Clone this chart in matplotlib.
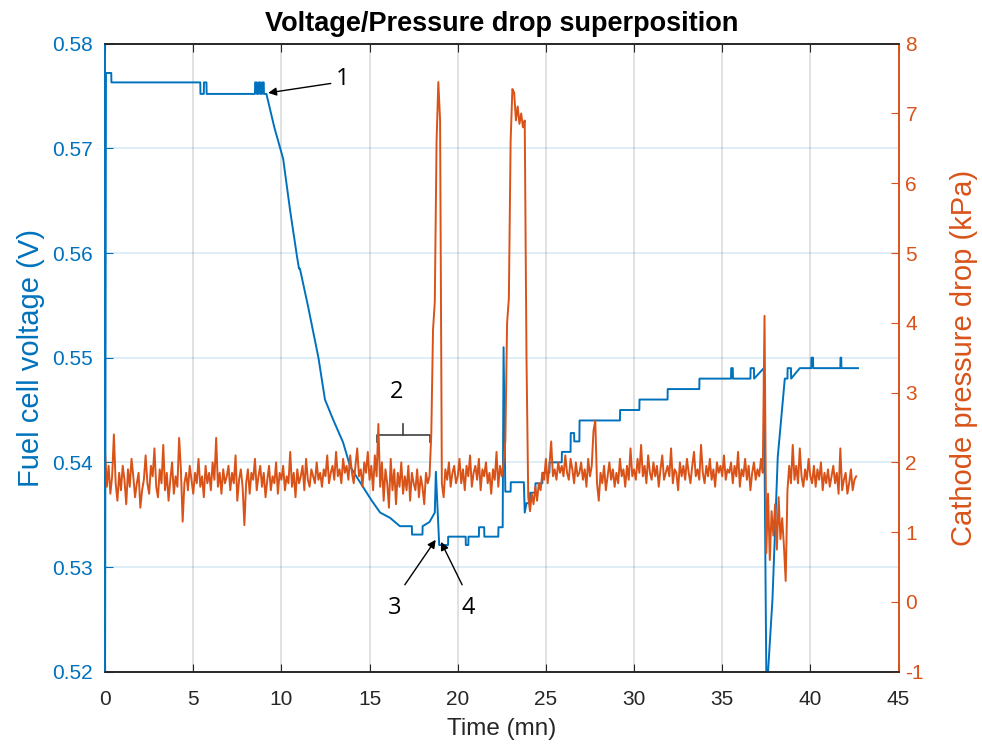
import numpy as np
import matplotlib
matplotlib.use('Agg')
from matplotlib import pyplot as plt

plt.rcParams['font.family'] = ['Liberation Sans', 'DejaVu Sans']
plt.rcParams['axes.unicode_minus'] = False

v_time = [0.0, 0.05, 0.35, 0.36, 5.4, 5.41, 5.6, 5.61, 5.75, 5.76, 6.0, 6.01,
          8.5, 8.51, 8.6, 8.61, 8.7, 8.71, 8.8, 8.81, 8.9, 8.91, 9.0, 9.01, 9.15,
          9.6, 10.1, 10.5, 10.9, 11.0, 11.05, 11.5, 12.1, 12.47, 12.93, 13.5, 13.9,
          14.46, 15.1, 15.6, 16.16, 16.72, 17.4, 17.41, 18.0, 18.01, 18.4, 18.7,
          18.76, 18.95, 19.45, 19.46, 20.45, 20.46, 20.6, 20.61, 21.2, 21.21, 21.5,
          21.51, 22.3, 22.31, 22.55, 22.6, 22.7, 22.75, 23.0, 23.01, 23.75, 23.8,
          23.9, 24.1, 24.11, 24.4, 24.41, 24.8, 24.81, 25.2, 25.21, 25.9, 25.91,
          26.4, 26.41, 26.6, 26.61, 26.9, 26.91, 27.6, 27.61, 29.2, 29.21, 30.3,
          30.31, 31.9, 31.91, 33.7, 33.71, 35.5, 35.51, 35.6, 35.61, 36.6, 36.61,
          36.8, 36.81, 37.36, 37.5, 37.6, 37.85, 38.15, 38.55, 38.7, 38.71, 38.9,
          38.91, 39.4, 40.05, 40.06, 40.15, 40.16, 41.7, 41.71, 41.75, 41.76, 42.7]
voltage = [0.520, 0.5772, 0.5772, 0.5763, 0.5763, 0.5752, 0.5752, 0.5763, 0.5763,
           0.5752, 0.5752, 0.5752, 0.5752, 0.5763, 0.5763, 0.5752, 0.5752, 0.5763,
           0.5763, 0.5752, 0.5752, 0.5763, 0.5763, 0.5752, 0.5752,
           0.5720, 0.5690, 0.5640, 0.5595, 0.5585, 0.5585, 0.5550, 0.5500, 0.5460,
           0.5441, 0.5419, 0.5396, 0.5381, 0.5364, 0.5352, 0.5347, 0.5339, 0.5339,
           0.5331, 0.5331, 0.5339, 0.5343, 0.5352, 0.5391, 0.5321, 0.5321, 0.5329,
           0.5329, 0.5321, 0.5321, 0.5329, 0.5329, 0.5338, 0.5338, 0.5329, 0.5329,
           0.5338, 0.5338, 0.5510, 0.5372, 0.5372, 0.5372, 0.5381, 0.5381, 0.5352,
           0.5361, 0.5361, 0.5371, 0.5371, 0.5380, 0.5380, 0.5390, 0.5390, 0.5400,
           0.5400, 0.5410, 0.5410, 0.5428, 0.5428, 0.5420, 0.5420, 0.5440, 0.5440,
           0.5440, 0.5440, 0.5450, 0.5450, 0.5460, 0.5460, 0.5470, 0.5470, 0.5480,
           0.5480, 0.5490, 0.5490, 0.5480, 0.5480, 0.5490, 0.5490, 0.5480, 0.5490,
           0.5200, 0.5200, 0.5269, 0.5405, 0.5480, 0.5480, 0.5490, 0.5490, 0.5480,
           0.5490, 0.5490, 0.5500, 0.5500, 0.5490, 0.5490, 0.5500, 0.5500, 0.5490,
           0.5490]

# cathode pressure drop (kPa), one reading every 0.1 mn, one row per minute
pressure = [
    2.15, 1.65, 1.95, 1.55, 1.80, 2.40, 1.70, 1.45, 1.85, 1.60,
    1.95, 1.75, 1.40, 1.90, 1.65, 2.05, 1.80, 1.50, 1.70, 1.85,
    1.35, 1.60, 1.75, 2.10, 1.70, 1.55, 1.95, 1.80, 2.20, 1.65,
    1.50, 1.90, 1.70, 2.25, 1.60, 1.85, 1.45, 1.75, 2.00, 1.55,
    1.80, 1.65, 2.35, 1.90, 1.15, 1.70, 1.85, 1.60, 1.95, 1.75,
    1.55, 1.85, 1.70, 2.05, 1.65, 1.80, 1.50, 1.95, 1.70, 1.85,
    1.60, 2.00, 1.75, 2.35, 1.65, 1.85, 1.55, 1.90, 1.70, 1.80,
    1.95, 1.60, 1.85, 1.70, 2.10, 1.45, 1.75, 1.90, 1.65, 1.10,
    1.70, 1.90, 1.55, 1.85, 1.75, 2.05, 1.60, 1.80, 1.95, 1.65,
    1.85, 1.50, 1.75, 1.95, 1.60, 1.80, 1.70, 2.00, 1.55, 1.85,
    1.75, 1.95, 1.60, 1.80, 1.70, 2.15, 1.65, 1.85, 1.50, 1.90,
    1.70, 1.80, 1.95, 1.60, 2.05, 1.75, 1.65, 1.90, 1.80, 1.70,
    2.00, 1.75, 1.85, 1.65, 1.90, 1.80, 2.10, 1.70, 1.85, 1.95,
    1.75, 2.15, 1.80, 1.90, 1.70, 2.05, 1.85, 1.95, 1.75, 2.10,
    1.85, 1.70, 1.95, 2.20, 1.80, 1.90, 1.65, 2.00, 1.85, 2.15,
    1.75, 1.95, 1.60, 2.10, 1.80, 2.55, 1.65, 2.00, 1.45, 1.90,
    1.70, 1.35, 2.05, 1.60, 1.90, 1.40, 1.85, 1.65, 2.00, 1.55,
    1.80, 1.60, 1.95, 1.45, 1.85, 1.70, 1.60, 1.90, 1.50, 1.80,
    1.65, 1.40, 1.85, 1.70, 1.80, 2.40, 3.90, 4.30, 6.60, 7.45,
    6.90, 1.70, 1.50, 1.90, 1.75, 2.00, 1.65, 1.85, 1.95, 1.70,
    1.80, 2.05, 1.70, 1.90, 1.60, 1.95, 1.80, 2.10, 1.65, 1.85,
    1.95, 1.75, 2.05, 1.60, 1.90, 1.80, 2.00, 1.70, 1.85, 1.55,
    1.90, 1.75, 2.15, 1.65, 1.95, 1.80, 2.00, 2.30, 4.00, 4.35,
    6.60, 7.35, 7.30, 6.90, 7.10, 6.85, 7.00, 6.80, 6.90, 3.50,
    1.50, 1.30, 1.55, 1.40, 1.65, 1.45, 1.70, 1.60, 1.85, 1.75,
    2.05, 1.70, 1.95, 2.30, 1.80, 1.90, 1.75, 2.00, 1.85, 1.95,
    1.80, 2.10, 1.85, 1.75, 2.05, 1.90, 1.70, 2.00, 1.80, 1.85,
    2.00, 1.75, 1.90, 1.65, 2.05, 1.80, 1.95, 2.45, 2.60, 1.70,
    1.45, 1.85, 1.70, 1.95, 1.60, 1.80, 2.00, 1.75, 1.90, 1.65,
    1.85, 1.70, 2.05, 1.80, 1.90, 1.65, 1.95, 1.75, 2.20, 1.80,
    1.90, 1.75, 2.05, 1.85, 2.25, 1.80, 1.95, 1.70, 2.10, 1.85,
    1.75, 2.00, 1.80, 1.95, 1.65, 1.90, 2.10, 1.75, 1.85, 1.95,
    1.80, 2.20, 1.70, 1.90, 1.85, 1.60, 2.00, 1.80, 1.95, 1.75,
    2.05, 1.85, 1.70, 1.95, 2.15, 1.80, 1.90, 1.75, 2.25, 1.85,
    1.70, 1.95, 1.80, 2.05, 1.75, 1.90, 1.65, 2.00, 1.85, 1.95,
    1.80, 2.10, 1.75, 1.90, 1.85, 2.00, 1.70, 1.95, 1.80, 2.15,
    1.65, 1.90, 1.80, 2.05, 1.75, 1.95, 1.60, 1.85, 2.00, 1.75,
    1.90, 1.80, 2.05, 1.85, 4.10, 0.70, 1.55, 0.60, 1.30, 0.95,
    1.40, 0.75, 1.50, 0.90, 1.20, 0.80, 0.30, 1.60, 1.95, 1.70,
    2.25, 1.75, 1.95, 1.70, 2.20, 1.80, 1.65, 1.90, 1.75, 2.05,
    1.80, 1.70, 1.95, 1.65, 1.90, 1.75, 2.00, 1.60, 1.85, 1.70,
    1.90, 1.65, 1.80, 1.95, 1.70, 1.85, 1.55, 2.20, 1.60, 1.75,
    1.85, 1.55, 1.70, 1.90, 1.60, 1.75, 1.80]
p_time = np.arange(len(pressure)) * 0.1

x_ticks = [0, 5, 10, 15, 20, 25, 30, 35, 40, 45]
v_ticks = [0.52, 0.53, 0.54, 0.55, 0.56, 0.57, 0.58]
p_ticks = [-1, 0, 1, 2, 3, 4, 5, 6, 7, 8]

blue = '#0072BD'
orange = '#D95319'
dark = '#262626'

fig = plt.figure(figsize=(9.82, 7.53), dpi=100)
ax = fig.add_axes([0.107, 0.108, 0.808, 0.834])
ax2 = ax.twinx()

ax.plot(v_time, voltage, color=blue, lw=1.4)
ax2.plot(p_time, pressure, color=orange, lw=1.4)

ax.set_xlim(0, 45)
ax.set_ylim(0.52, 0.58)
ax2.set_ylim(-1, 8)
ax.set_xticks(x_ticks)
ax.set_yticks(v_ticks)
ax.set_yticklabels(['%.2f' % v for v in v_ticks])
ax2.set_yticks(p_ticks)

# matlab style grid: grey verticals, bluish horizontals
for t in x_ticks[1:-1]:
    ax.axvline(t, color='#dcdcdc', lw=1.2, zorder=0)
for v in v_ticks[1:-1]:
    ax.axhline(v, color=blue, alpha=0.15, lw=1.2, zorder=0)

ax.tick_params(axis='x', direction='in', top=True, length=6, colors=dark, labelsize=15, pad=13)
ax.tick_params(axis='y', direction='in', length=6, colors=blue, labelsize=15, pad=9)
ax2.tick_params(axis='y', direction='in', length=6, colors=orange, labelsize=15, pad=5)
for a in (ax, ax2):
    a.spines['top'].set_color(dark)
    a.spines['bottom'].set_color(dark)
    a.spines['left'].set_color(blue)
    a.spines['right'].set_color(orange)
    for s in a.spines.values():
        s.set_linewidth(1.2)

ax.set_xlabel('Time (mn)', fontsize=17.5, color=dark, labelpad=7)
ax.set_ylabel('Fuel cell voltage (V)', fontsize=21, color=blue, labelpad=5)
ax2.set_ylabel('Cathode pressure drop (kPa)', fontsize=21, color=orange, labelpad=19)
ax.set_title('Voltage/Pressure drop superposition', fontsize=19.5, fontweight='bold',
             color='black', pad=9)

# annotations
arr = dict(arrowstyle='-|>', color='black', lw=1.0, mutation_scale=12, shrinkA=0, shrinkB=0)
ann_font = dict(fontsize=17, family=['Open Sans', 'DejaVu Sans'], color='black')
ax.annotate('', xy=(9.25, 0.5753), xytext=(12.8, 0.5762), arrowprops=arr)
ax.text(13.5, 0.5766, '1', ha='center', va='center', **ann_font)
ax.plot([15.42, 15.42, 18.42, 18.42], [0.5419, 0.54265, 0.54265, 0.5419], color='#404040', lw=1.2)
ax.plot([16.9, 16.9], [0.54265, 0.5437], color='#404040', lw=1.2)
ax.text(16.55, 0.5467, '2', ha='center', va='center', **ann_font)
ax.annotate('', xy=(18.75, 0.5326), xytext=(17.0, 0.5283), arrowprops=arr)
ax.text(16.45, 0.5261, '3', ha='center', va='center', **ann_font)
ax.annotate('', xy=(19.05, 0.5324), xytext=(20.25, 0.5283), arrowprops=arr)
ax.text(20.6, 0.5261, '4', ha='center', va='center', **ann_font)

fig.savefig('out.png', dpi=100)
